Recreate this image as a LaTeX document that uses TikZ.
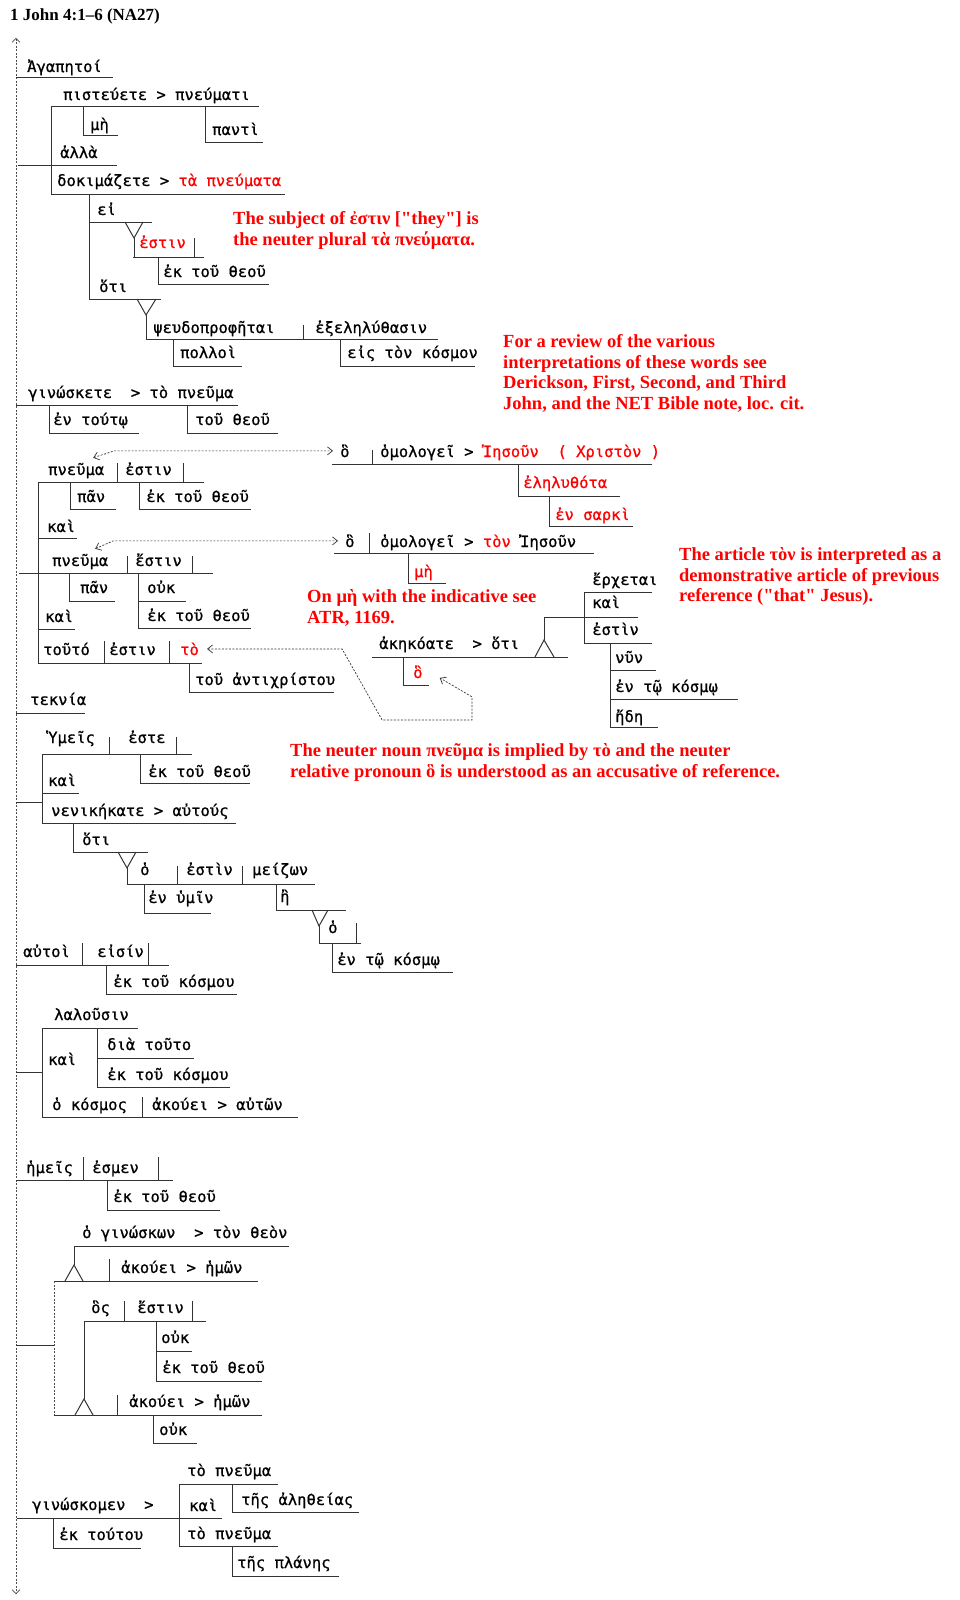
\documentclass[tikz,border=0pt]{standalone}
\usepackage{fontspec}
\setmainfont{Liberation Serif}[Ligatures=TeXOff]
\newfontfamily\gkfont{DejaVu Sans Mono}[FakeBold=0.8]
\usepackage{xcolor}
\usetikzlibrary{arrows.meta}
\definecolor{notered}{RGB}{255,0,0}
\newcommand{\rd}[1]{\textcolor{notered}{#1}}

\begin{document}
\begin{tikzpicture}[x=1pt,y=-1pt,
  gk/.style={anchor=base west,inner sep=0pt,font=\gkfont\fontsize{15.5}{18}\selectfont},
  note/.style={anchor=north west,inner sep=0pt,align=left,text=notered,
    font=\bfseries\fontsize{18.5}{20.8}\selectfont},
  ln/.style={line width=1pt,black!80},
  spine/.style={line width=0.7pt,black!70,dash pattern=on 2pt off 1.5pt,
    {Straight Barb[length=4pt,width=8pt]}-{Straight Barb[length=4pt,width=8pt]}},
  link/.style={line width=0.7pt,black!80,dash pattern=on 2pt off 1.5pt,
    {Straight Barb[length=5pt,width=8pt]}-{Straight Barb[length=5pt,width=8pt]}}
  ]
\useasboundingbox (0,0) rectangle (959,1600);

% title and the dashed spine
\node[anchor=base west,inner sep=0pt,font=\bfseries\fontsize{17}{18}\selectfont] (title) at (10,21)
  {1 John 4:1–6 (NA27)};
\draw[spine] (16,38) -- (16,1594);

% 4:1
\node[gk] (agap) at (27,72) {Ἀγαπητοί};
\node[gk] (pist) at (63,100) {πιστεύετε > πνεύματι};
\node[gk] (me1) at (90,130) {μὴ};
\node[gk] (panti) at (212,135) {παντὶ};
\node[gk] (alla) at (60,158) {ἀλλὰ};
\node[gk] (dokim) at (57,186) {δοκιμάζετε > \rd{τὰ πνεύματα}};
\node[gk] (ei) at (97,215) {εἰ};
\node[gk,text=notered] (esti1) at (139,248) {ἐστιν};
\node[gk] (ektheou1) at (163,277) {ἐκ τοῦ θεοῦ};
\node[gk] (hoti1) at (99,292) {ὅτι};
\node[gk] (pseudo) at (153,333) {ψευδοπροφῆται};
\node[gk] (exel) at (315,333) {ἐξεληλύθασιν};
\node[gk] (polloi) at (180,358) {πολλοὶ};
\node[gk] (eiskosmon) at (347,358) {εἰς τὸν κόσμον};

\draw[ln] (16,78) -- (113,78);
\draw[ln] (51,107) -- (259,107);
\draw[ln] (83,107) -- (83,136) -- (118,136);
\draw[ln] (205,107) -- (205,142) -- (263,142);
\draw[ln] (51,107) -- (51,194);
\draw[ln] (18,165) -- (117,165);
\draw[ln] (51,194) -- (285,194);
\draw[ln] (89,194) -- (89,299);
\draw[ln] (89,222) -- (152,222);
\draw[ln] (125,222) -- (134,238) -- (143,222);
\draw[ln] (134,238) -- (134,257);
\draw[ln] (133,257) -- (204,257);
\draw[ln] (194,238) -- (194,257);
\draw[ln] (158,257) -- (158,284) -- (269,284);
\draw[ln] (89,299) -- (161,299);
\draw[ln] (137,299) -- (146,315) -- (156,299);
\draw[ln] (146,315) -- (146,339) -- (438,339);
\draw[ln] (303,325) -- (303,339);
\draw[ln] (173,339) -- (173,366) -- (242,366);
\draw[ln] (340,339) -- (340,366) -- (475,366);

% 4:2
\node[gk] (ginosk) at (28,398) {γινώσκετε~~> τὸ πνεῦμα};
\node[gk] (entouto) at (53,425) {ἐν τούτῳ};
\node[gk] (toutheou) at (195,425) {τοῦ θεοῦ};
\draw[ln] (16,405) -- (238,405);
\draw[ln] (49,405) -- (49,433) -- (139,433);
\draw[ln] (187,405) -- (187,433) -- (278,433);

\node[gk] (ho1) at (340,457) {ὃ};
\node[gk] (homol1) at (380,457) {ὁμολογεῖ > \rd{Ἰησοῦν~~( Χριστὸν )}};
\node[gk,text=notered] (elel) at (523,488) {ἐληλυθότα};
\node[gk,text=notered] (ensarki) at (555,520) {ἐν σαρκὶ};
\draw[ln] (332,464) -- (652,464);
\draw[ln] (372,450) -- (372,464);
\draw[ln] (518,464) -- (518,496) -- (620,496);
\draw[ln] (549,496) -- (549,526) -- (633,526);

\node[gk] (pnA) at (48,475) {πνεῦμα};
\node[gk] (estinA) at (125,475) {ἐστιν};
\node[gk] (panA) at (77,502) {πᾶν};
\node[gk] (ekA) at (146,502) {ἐκ τοῦ θεοῦ};
\node[gk] (kaiA) at (47,532) {καὶ};
\draw[ln] (38,482) -- (204,482);
\draw[ln] (117,463) -- (117,482);
\draw[ln] (183,463) -- (183,482);
\draw[ln] (70,482) -- (70,509) -- (116,509);
\draw[ln] (139,482) -- (139,509) -- (251,509);
\draw[ln] (38,482) -- (38,663);
\draw[ln] (38,538) -- (77,538);

% 4:3
\node[gk] (ho2) at (345,547) {ὃ};
\node[gk] (homol2) at (380,547) {ὁμολογεῖ > \rd{τὸν} Ἰησοῦν};
\node[gk,text=notered] (me2) at (414,577) {μὴ};
\draw[ln] (334,553) -- (594,553);
\draw[ln] (369,533) -- (369,553);
\draw[ln] (408,553) -- (408,583) -- (446,583);

\node[gk] (pnB) at (52,566) {πνεῦμα};
\node[gk] (estinB) at (135,566) {ἔστιν};
\node[gk] (panB) at (80,593) {πᾶν};
\node[gk] (oukB) at (147,593) {οὐκ};
\node[gk] (ekB) at (147,621) {ἐκ τοῦ θεοῦ};
\node[gk] (kaiB) at (45,622) {καὶ};
\node[gk] (touto) at (43,655) {τοῦτό};
\node[gk] (estinC) at (109,655) {ἐστιν};
\node[gk,text=notered] (to) at (180,655) {τὸ};
\node[gk] (antichr) at (195,685) {τοῦ ἀντιχρίστου};
\draw[ln] (19,573) -- (213,573);
\draw[ln] (127,556) -- (127,573);
\draw[ln] (192,556) -- (192,573);
\draw[ln] (69,573) -- (69,601) -- (115,601);
\draw[ln] (138,573) -- (138,628) -- (251,628);
\draw[ln] (138,601) -- (186,601);
\draw[ln] (38,629) -- (75,629);
\draw[ln] (38,663) -- (202,663);
\draw[ln] (104,641) -- (104,663);
\draw[ln] (169,641) -- (169,663);
\draw[ln] (189,663) -- (189,692) -- (334,692);

\node[gk] (akek) at (379,649) {ἀκηκόατε~~> ὅτι};
\node[gk,text=notered] (ho3) at (413,678) {ὃ};
\node[gk] (erchetai) at (592,585) {ἔρχεται};
\node[gk] (kaiC) at (592,608) {καὶ};
\node[gk] (estinD) at (592,635) {ἐστὶν};
\node[gk] (nyn) at (615,663) {νῦν};
\node[gk] (enkosmo1) at (615,692) {ἐν τῷ κόσμῳ};
\node[gk] (ede) at (615,722) {ἤδη};
\draw[ln] (372,657) -- (568,657);
\draw[ln] (535,657) -- (544,640) -- (554,657);
\draw[ln] (544,640) -- (544,617) -- (638,617);
\draw[ln] (584,592) -- (584,643);
\draw[ln] (584,592) -- (652,592);
\draw[ln] (584,643) -- (652,643);
\draw[ln] (610,643) -- (610,727);
\draw[ln] (610,670) -- (656,670);
\draw[ln] (610,699) -- (738,699);
\draw[ln] (610,727) -- (658,727);
\draw[ln] (403,657) -- (403,685) -- (429,685);

% dashed links
\draw[link] ([xshift=17pt,yshift=5pt]pnA.north) -- ([xshift=38pt]pnA.north |- ho1.west)
  -- ([xshift=-7pt]ho1.west);
\draw[link] ([xshift=15pt,yshift=5pt]pnB.north) -- ([xshift=33pt]pnB.north |- ho2.west)
  -- ([xshift=-7pt]ho2.west);
\draw[link] ([xshift=8pt]to.east) -- ++(135,0) -- ++(40,71) -- ++(90,0) -- ++(0,-23)
  -- ([xshift=17pt,yshift=-6pt]ho3.east);

% 4:4
\node[gk] (teknia) at (30,705) {τεκνία};
\draw[ln] (16,713) -- (85,713);

\node[gk] (hymeis) at (48,743) {Ὑμεῖς};
\node[gk] (este) at (128,743) {ἐστε};
\node[gk] (ekD) at (148,777) {ἐκ τοῦ θεοῦ};
\node[gk] (kaiD) at (48,786) {καὶ};
\node[gk] (nenik) at (51,816) {νενικήκατε > αὐτούς};
\node[gk] (hoti2) at (82,845) {ὅτι};
\node[gk] (hoE) at (140,875) {ὁ};
\node[gk] (estinE) at (186,875) {ἐστὶν};
\node[gk] (meizon) at (252,875) {μείζων};
\node[gk] (enhymin) at (148,903) {ἐν ὑμῖν};
\node[gk] (e) at (280,902) {ἢ};
\node[gk] (hoF) at (328,933) {ὁ};
\node[gk] (enkosmo2) at (337,965) {ἐν τῷ κόσμῳ};
\draw[ln] (42,754) -- (192,754);
\draw[ln] (109,737) -- (109,754);
\draw[ln] (176,737) -- (176,754);
\draw[ln] (140,754) -- (140,783) -- (250,783);
\draw[ln] (42,754) -- (42,823);
\draw[ln] (42,793) -- (79,793);
\draw[ln] (16,802) -- (42,802);
\draw[ln] (42,823) -- (236,823);
\draw[ln] (73,823) -- (73,852) -- (148,852);
\draw[ln] (118,852) -- (127,868) -- (136,852);
\draw[ln] (127,868) -- (127,884) -- (315,884);
\draw[ln] (177,866) -- (177,884);
\draw[ln] (242,866) -- (242,884);
\draw[ln] (144,884) -- (144,913) -- (211,913);
\draw[ln] (276,884) -- (276,910) -- (346,910);
\draw[ln] (312,910) -- (319,926) -- (328,910);
\draw[ln] (319,926) -- (319,943) -- (361,943);
\draw[ln] (356,923) -- (356,943);
\draw[ln] (332,943) -- (332,972) -- (453,972);

% 4:5
\node[gk] (autoi) at (23,957) {αὐτοὶ};
\node[gk] (eisin) at (97,957) {εἰσίν};
\node[gk] (ekkosmou1) at (113,987) {ἐκ τοῦ κόσμου};
\draw[ln] (16,965) -- (169,965);
\draw[ln] (82,943) -- (82,965);
\draw[ln] (148,943) -- (148,965);
\draw[ln] (106,965) -- (106,994) -- (237,994);

\node[gk] (lalousin) at (54,1020) {λαλοῦσιν};
\node[gk] (diatouto) at (107,1050) {διὰ τοῦτο};
\node[gk] (kaiE) at (48,1065) {καὶ};
\node[gk] (ekkosmou2) at (107,1080) {ἐκ τοῦ κόσμου};
\node[gk] (kosmos) at (52,1110) {ὁ κόσμος};
\node[gk] (akouei1) at (152,1110) {ἀκούει > αὐτῶν};
\draw[ln] (42,1028) -- (138,1028);
\draw[ln] (42,1028) -- (42,1117);
\draw[ln] (97,1028) -- (97,1087);
\draw[ln] (97,1058) -- (194,1058);
\draw[ln] (97,1087) -- (230,1087);
\draw[ln] (16,1072) -- (42,1072);
\draw[ln] (42,1117) -- (298,1117);
\draw[ln] (142,1097) -- (142,1117);

% 4:6
\node[gk] (hemeis) at (26,1173) {ἡμεῖς};
\node[gk] (esmen) at (92,1173) {ἐσμεν};
\node[gk] (ekF) at (113,1202) {ἐκ τοῦ θεοῦ};
\draw[ln] (16,1180) -- (173,1180);
\draw[ln] (83,1157) -- (83,1180);
\draw[ln] (158,1157) -- (158,1180);
\draw[ln] (107,1180) -- (107,1210) -- (220,1210);

\node[gk] (ginoskon) at (82,1238) {ὁ γινώσκων~~> τὸν θεὸν};
\node[gk] (akouei2) at (121,1273) {ἀκούει > ἡμῶν};
\node[gk] (hos) at (91,1313) {ὃς};
\node[gk] (estinG) at (137,1313) {ἔστιν};
\node[gk] (oukG) at (161,1343) {οὐκ};
\node[gk] (ekG) at (162,1373) {ἐκ τοῦ θεοῦ};
\node[gk] (akouei3) at (129,1407) {ἀκούει > ἡμῶν};
\node[gk] (oukH) at (159,1435) {οὐκ};
\draw[ln] (74,1246) -- (289,1246);
\draw[ln] (74,1246) -- (74,1265);
\draw[ln] (65,1281) -- (74,1265) -- (83,1281);
\draw[ln] (54,1281) -- (258,1281);
\draw[ln] (109,1259) -- (109,1281);
\draw[spine,arrows=-] (54,1281) -- (54,1415);
\draw[ln] (16,1345) -- (54,1345);
\draw[ln] (84,1321) -- (206,1321);
\draw[ln] (124,1301) -- (124,1321);
\draw[ln] (192,1301) -- (192,1321);
\draw[ln] (84,1321) -- (84,1399);
\draw[ln] (75,1415) -- (84,1399) -- (93,1415);
\draw[ln] (156,1321) -- (156,1381) -- (262,1381);
\draw[ln] (156,1351) -- (192,1351);
\draw[ln] (54,1415) -- (262,1415);
\draw[ln] (117,1395) -- (117,1415);
\draw[ln] (153,1415) -- (153,1443) -- (197,1443);

\node[gk] (pnH1) at (187,1476) {τὸ πνεῦμα};
\node[gk] (aletheias) at (241,1505) {τῆς ἀληθείας};
\node[gk] (ginoskomen) at (32,1510) {γινώσκομεν~~>};
\node[gk] (kaiH) at (189,1511) {καὶ};
\node[gk] (ektoutou) at (59,1540) {ἐκ τούτου};
\node[gk] (pnH2) at (187,1539) {τὸ πνεῦμα};
\node[gk] (planes) at (237,1568) {τῆς πλάνης};
\draw[ln] (17,1518) -- (222,1518);
\draw[ln] (179,1484) -- (278,1484);
\draw[ln] (179,1484) -- (179,1546) -- (278,1546);
\draw[ln] (232,1484) -- (232,1512) -- (359,1512);
\draw[ln] (232,1546) -- (232,1576) -- (339,1576);
\draw[ln] (53,1518) -- (53,1548) -- (141,1548);

% notes
\node[note] (noteA) at (233,211) {The subject of ἐστιν ["they"] is\\the neuter plural τὰ πνεύματα.};
\node[note] (noteB) at (503,334) {For a review of the various\\interpretations of these words see\\
  Derickson, First, Second, and Third\\John, and the NET Bible note, loc. cit.};
\node[note] (noteC) at (679,547) {The article τὸν is interpreted as a\\demonstrative article of previous\\
  reference ("that" Jesus).};
\node[note] (noteD) at (307,589) {On μὴ with the indicative see\\ATR, 1169.};
\node[note] (noteE) at (290,743) {The neuter noun πνεῦμα is implied by τὸ and the neuter\\
  relative pronoun ὃ is understood as an accusative of reference.};

\end{tikzpicture}
\end{document}
